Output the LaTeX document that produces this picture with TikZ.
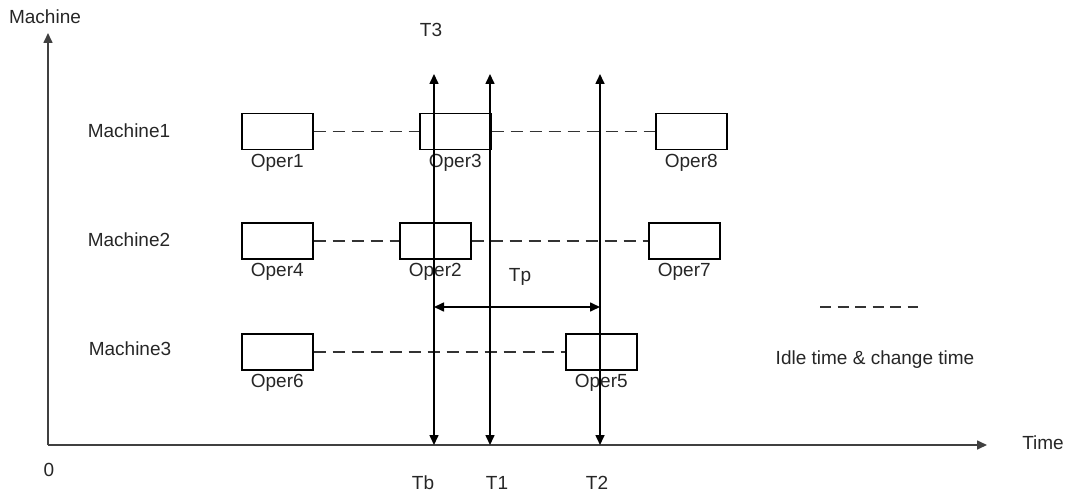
\documentclass[tikz,border=0pt]{standalone}
\usepackage{fontspec}
\setmainfont{Liberation Sans}
\usetikzlibrary{arrows.meta}
\begin{document}
\begin{tikzpicture}[x=1pt,y=-1pt,
  lbl/.style={font=\fontsize{19}{21}\selectfont, text=black!85, inner sep=0pt, anchor=center},
  opbox/.style={draw, line width=1.5pt, minimum width=71pt, minimum height=36pt, inner sep=0pt, anchor=north west},
  idle/.style={line width=1.5pt, dash pattern=on 12pt off 7pt, draw=black!80},
  arr/.style={line width=1.6pt, -{Triangle[length=10pt,width=9pt]}},
  darr/.style={line width=1.6pt, {Triangle[length=10pt,width=9pt]}-{Triangle[length=10pt,width=9pt]}}]
\useasboundingbox (0,0) rectangle (1070,497);
% axes
\coordinate (O) at (48,445);
\coordinate (Ytop) at (48,33);
\coordinate (Xend) at (987,445);
\draw[arr,draw=black!75] (O) -- (Ytop);
\draw[arr,draw=black!75] (O) -- (Xend);
\node[lbl] (ylab) at (45,17) {Machine};
\node[lbl] (xlab) at (1043,443) {Time};
\node[lbl] (zero) at (49,470) {0};
% machine labels
\node[lbl] (m1) at (129,131) {Machine1};
\node[lbl] (m2) at (129,240) {Machine2};
\node[lbl] (m3) at (130,349) {Machine3};
% operation boxes
\node[opbox] (o1) at (241,113) {};
\node[opbox] (o3) at (419,113) {};
\node[opbox] (o8) at (655,113) {};
\node[opbox] (o4) at (241,222) {};
\node[opbox] (o2) at (399,222) {};
\node[opbox] (o7) at (648,222) {};
\node[opbox] (o6) at (241,333) {};
\node[opbox] (o5) at (565,333) {};
% operation labels
\node[lbl] (l1) at ([yshift=-12pt]o1.south) {Oper1};
\node[lbl] (l3) at ([yshift=-12pt]o3.south) {Oper3};
\node[lbl] (l8) at ([yshift=-12pt]o8.south) {Oper8};
\node[lbl] (l4) at ([yshift=-12pt]o4.south) {Oper4};
\node[lbl] (l2) at ([yshift=-12pt]o2.south) {Oper2};
\node[lbl] (l7) at ([yshift=-12pt]o7.south) {Oper7};
\node[lbl] (l6) at ([yshift=-12pt]o6.south) {Oper6};
\node[lbl] (l5) at ([yshift=-12pt]o5.south) {Oper5};
% idle dashed lines
\draw[idle] (o1.east) -- (o3.west);
\draw[idle] (o3.east) -- (o8.west);
\draw[idle] (o4.east) -- (o2.west);
\draw[idle] (o2.east) -- (o7.west);
\draw[idle] (o6.east) -- (o5.west);
% time lines
\coordinate (Tbt) at (434,74);
\coordinate (Tbb) at (434,445);
\coordinate (T1t) at (490,74);
\coordinate (T1b) at (490,445);
\coordinate (T2t) at (600,74);
\coordinate (T2b) at (600,445);
\draw[darr] (Tbb) -- (Tbt);
\draw[darr] (T1b) -- (T1t);
\draw[darr] (T2b) -- (T2t);
\node[lbl] (t3) at (431,30) {T3};
\node[lbl] (tb) at (423,483) {Tb};
\node[lbl] (t1) at (497,483) {T1};
\node[lbl] (t2) at (597,483) {T2};
% Tp
\coordinate (Tpl) at (434,307);
\coordinate (Tpr) at (600,307);
\draw[darr] (Tpl) -- (Tpr);
\node[lbl] (tp) at (520,277) {Tp};
% legend
\coordinate (lg1) at (820,307);
\coordinate (lg2) at (918,307);
\draw[line width=1.5pt, dash pattern=on 11pt off 6.5pt, draw=black!80] (lg1) -- (lg2);
\node[lbl] (idletxt) at (875,360) {Idle time \& change time};
\end{tikzpicture}
\end{document}
